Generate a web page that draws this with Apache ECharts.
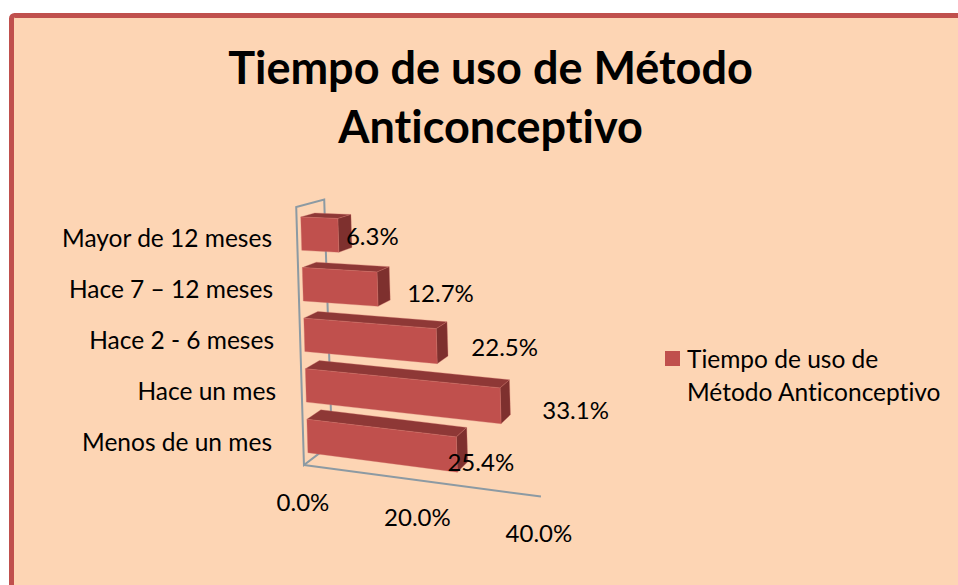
<!DOCTYPE html>
<html>
<head>
<meta charset="utf-8">
<style>html,body{margin:0;padding:0;background:#fff}#c{width:958px;height:585px}
svg text{font-variant-ligatures:none !important}</style>
<script src="https://cdn.jsdelivr.net/npm/echarts@6/dist/echarts.min.js"></script>
</head>
<body>
<div id="c"></div>
<script>
const titleText = 'Tiempo de uso de Método\nAnticonceptivo';
const seriesName = 'Tiempo de uso de Método Anticonceptivo';
const categories = ['Mayor de 12 meses', 'Hace 7 – 12 meses', 'Hace 2 - 6 meses', 'Hace un mes', 'Menos de un mes'];
const values = [6.3, 12.7, 22.5, 33.1, 25.4];
const axisTicks = [0, 20, 40];

// drawing parameters of the pseudo-3D view
const FONT = 'Lato';
const labelShift = [[34, 0], [63, 3.5], [68, 0.5], [75, 3.5], [24, 6.5]];
const tickShift = [-1, -5, -2];
const catPad = [4, 3, 2, 0, 4];
const FRONT = '#C0504D', TOP = '#8E3836', SIDE = '#7E302E', WALL = '#8C9AA3';

function makeProjector(cs) {
  const left = cs.x, bottom = cs.y + cs.height, unit = cs.width / 40;
  return function (X, Y, d) {
    const v = (X - left) / unit;
    const slope = 0.133 - 0.000375 * (465 - Y);
    const sx = X + 0.03 * (Y - bottom);
    const sy = Y + slope * (X - left);
    return [sx + (14 - 0.14 * v) * d, sy - (4 + (Y - 218) * 0.027) * d];
  };
}

function renderBar(params, api) {
  const P = makeProjector(params.coordSys);
  const i = params.dataIndex;
  const end = api.coord([api.value(0), api.value(1)]);
  const X0 = params.coordSys.x;
  const h = api.size([0, 1])[1] * 0.66;
  const yT = end[1] - h / 2 - 2, yB = end[1] + h / 2 - 2;
  const d0 = 0.3, d1 = 1.3;
  const poly = (pts, fill) => ({ type: 'polygon', shape: { points: pts }, style: { fill: fill, stroke: 'rgba(205,110,105,0.55)', lineWidth: 0.6 } });
  const mid = P(end[0], end[1] - 2, d0);
  return {
    type: 'group',
    children: [
      poly([P(X0, yT, d0), P(end[0], yT, d0), P(end[0], yT, d1), P(X0, yT, d1)], TOP),
      poly([P(end[0], yT, d0), P(end[0], yB, d0), P(end[0], yB, d1), P(end[0], yT, d1)], SIDE),
      poly([P(X0, yT, d0), P(end[0], yT, d0), P(end[0], yB, d0), P(X0, yB, d0)], FRONT),
      {
        type: 'text', z2: 50,
        style: {
          x: mid[0] + labelShift[i][0], y: mid[1] + labelShift[i][1],
          text: api.value(0).toFixed(1) + '%', align: 'center', verticalAlign: 'middle',
          font: '24px ' + FONT, fill: '#000'
        }
      }
    ]
  };
}

function renderWalls(params) {
  const cs = params.coordSys, P = makeProjector(cs);
  const l = cs.x, r = cs.x + cs.width, t = cs.y - 4.5, b = cs.y + cs.height - 1.5;
  const line = pts => ({ type: 'polyline', shape: { points: pts }, style: { fill: 'none', stroke: WALL, lineWidth: 2 } });
  return {
    type: 'group',
    children: [
      line([P(l, b, 2), P(l, t, 2), P(l, t, 0), P(l, b, 0), P(l, b, 2)]),
      line([P(l, b, 0), P(r, b, 0)])
    ]
  };
}

function renderTick(params, api) {
  const cs = params.coordSys, P = makeProjector(cs);
  const x = api.coord([api.value(0), 0])[0];
  const p = P(x, cs.y + cs.height - 1.5, 0);
  return {
    type: 'text',
    style: {
      x: p[0] + tickShift[params.dataIndex], y: p[1] + 36,
      text: api.value(0).toFixed(1) + '%', align: 'center', verticalAlign: 'middle',
      font: '24px ' + FONT, fill: '#000'
    }
  };
}

const chart = echarts.init(document.getElementById('c'), null, { renderer: 'svg' });
chart.setOption({
  animation: false,
  backgroundColor: '#ffffff',
  graphic: [{
    type: 'rect', z: -10, silent: true,
    shape: { x: 11.5, y: 15.5, width: 1100, height: 800, r: 3 },
    style: { fill: '#FDD5B4', stroke: '#C0504D', lineWidth: 5 }
  }],
  title: {
    text: titleText, left: 485.5, top: 32, textAlign: 'center',
    textStyle: { fontFamily: FONT, fontSize: 45, fontWeight: 'bold', color: '#000', lineHeight: 59 }
  },
  legend: {
    left: 660, top: 304, icon: 'rect', itemWidth: 15, itemHeight: 15,
    data: [seriesName],
    formatter: n => '\n' + n.replace(' Método', '\nMétodo'),
    textStyle: { fontFamily: FONT, fontSize: 24.5, color: '#000', lineHeight: 33, padding: [0, 0, 0, 2] }
  },
  grid: { left: 304, top: 211.5, width: 237, height: 255 },
  xAxis: { type: 'value', min: 0, max: 40, interval: 20, show: false },
  yAxis: {
    type: 'category', inverse: true, data: categories,
    axisLine: { show: false }, axisTick: { show: false }, splitLine: { show: false },
    axisLabel: {
      margin: 28, fontFamily: FONT, fontSize: 24.5, color: '#000',
      formatter: (v, i) => '{c' + i + '|' + v + '}',
      rich: Object.fromEntries(catPad.map((p, i) => ['c' + i, { padding: [0, p, 0, 0], fontFamily: FONT, fontSize: 24.5, color: '#000' }]))
    }
  },
  series: [
    { type: 'custom', name: 'walls', silent: true, clip: false, z: 1, renderItem: renderWalls, data: [[0, 0]], encode: { x: 0, y: 1 } },
    { type: 'custom', name: seriesName, clip: false, z: 2, itemStyle: { color: FRONT }, renderItem: renderBar, encode: { x: 0, y: 1 },
      data: values.map((v, i) => [v, i]) },
    { type: 'custom', name: 'ticks', silent: true, clip: false, z: 3, renderItem: renderTick, encode: { x: 0, y: 1 },
      data: axisTicks.map(v => [v, 0]) }
  ]
});
</script>
</body>
</html>
